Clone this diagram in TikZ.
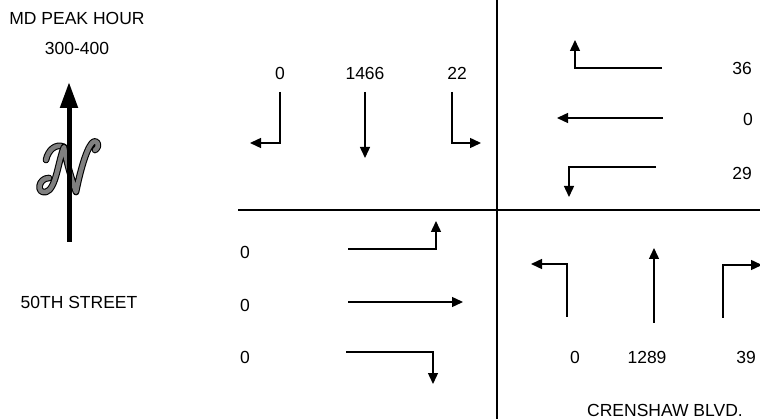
\documentclass[tikz,border=0pt]{standalone}
\usepackage{fontspec}
\setmainfont{Liberation Sans}
\usetikzlibrary{arrows.meta}
\tikzset{
  lbl/.style={font=\fontsize{17.5}{20}\selectfont, inner sep=0pt, anchor=center},
  mv/.style={line width=1.4pt, -{Triangle[length=11pt,width=10pt]}},
  road/.style={line width=2.2pt},
  scriptn/.style={draw=black, line width=1.1pt, double=gray, double distance=4.5pt, line cap=round, line join=round},
}
\begin{document}
\begin{tikzpicture}[x=1pt,y=-1pt]
\useasboundingbox (0,0) rectangle (760,419);
% road lines
\coordinate (vt) at (497,0);
\coordinate (vb) at (497,419);
\coordinate (hl) at (238,210);
\coordinate (hr) at (760,210);
\draw[road] (vt) -- (vb);
\draw[road] (hl) -- (hr);
% title
\node[lbl] (t1) at (77,18) {MD PEAK HOUR};
\node[lbl] (t2) at (77,48) {300-400};
\node[lbl] (st) at (79,302) {50TH STREET};
\node[lbl] (cb) at (665,410) {CRENSHAW BLVD.};
% north arrow: script N
\draw[scriptn] (46,160) .. controls (48,150) and (56,143) .. (64,147);
\draw[scriptn] (49,178) .. controls (38,178) and (36,194) .. (46,192)
  .. controls (56,189) and (58,162) .. (64,147)
  .. controls (67,165) and (72,180) .. (76,192)
  .. controls (80,172) and (86,150) .. (92,143)
  .. controls (97,138) and (101,146) .. (95,150);
\coordinate (na0) at (69,242);
\coordinate (na1) at (69,82);
\draw[line width=5pt, -{Triangle[length=26pt,width=17pt]}] (na0) -- (na1);
% NW: southbound
\node[lbl] (s1) at (280,73) {0};
\node[lbl] (s2) at (365,73) {1466};
\node[lbl] (s3) at (457,73) {22};
\coordinate (sa0) at (280,92);
\coordinate (sa1) at (280,143);
\coordinate (sa2) at (250,143);
\draw[mv] (sa0) -- (sa1) -- (sa2);
\coordinate (sb0) at (365,92);
\coordinate (sb1) at (365,158);
\draw[mv] (sb0) -- (sb1);
\coordinate (sc0) at (452,92);
\coordinate (sc1) at (452,143);
\coordinate (sc2) at (481,143);
\draw[mv] (sc0) -- (sc1) -- (sc2);
% NE: westbound
\node[lbl] (w1) at (742,68) {36};
\node[lbl] (w2) at (748,119) {0};
\node[lbl] (w3) at (742,173) {29};
\coordinate (wa0) at (662,68);
\coordinate (wa1) at (575,68);
\coordinate (wa2) at (575,40);
\draw[mv] (wa0) -- (wa1) -- (wa2);
\coordinate (wb0) at (663,118);
\coordinate (wb1) at (557,118);
\draw[mv] (wb0) -- (wb1);
\coordinate (wc0) at (656,167);
\coordinate (wc1) at (569,167);
\coordinate (wc2) at (569,197);
\draw[mv] (wc0) -- (wc1) -- (wc2);
% SW: eastbound
\node[lbl] (e1) at (245,252) {0};
\node[lbl] (e2) at (245,305) {0};
\node[lbl] (e3) at (245,357) {0};
\coordinate (ea0) at (348,249);
\coordinate (ea1) at (436,249);
\coordinate (ea2) at (436,221);
\draw[mv] (ea0) -- (ea1) -- (ea2);
\coordinate (eb0) at (348,302);
\coordinate (eb1) at (463,302);
\draw[mv] (eb0) -- (eb1);
\coordinate (ec0) at (346,352);
\coordinate (ec1) at (433,352);
\coordinate (ec2) at (433,384);
\draw[mv] (ec0) -- (ec1) -- (ec2);
% SE: northbound
\node[lbl] (n1) at (575,357) {0};
\node[lbl] (n2) at (647,357) {1289};
\node[lbl] (n3) at (746,357) {39};
\coordinate (na2) at (567,317);
\coordinate (na3) at (567,264);
\coordinate (na4) at (531,264);
\draw[mv] (na2) -- (na3) -- (na4);
\coordinate (nb0) at (654,323);
\coordinate (nb1) at (654,248);
\draw[mv] (nb0) -- (nb1);
\coordinate (nc0) at (723,318);
\coordinate (nc1) at (723,265);
\coordinate (nc2) at (762,265);
\draw[mv] (nc0) -- (nc1) -- (nc2);
\end{tikzpicture}
\end{document}
